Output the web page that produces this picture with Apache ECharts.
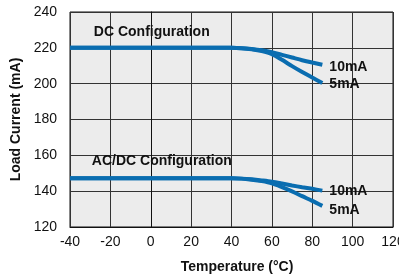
<!DOCTYPE html>
<html><head><meta charset="utf-8">
<script src="https://cdn.jsdelivr.net/npm/echarts@6/dist/echarts.min.js"></script>
<style>html,body{margin:0;padding:0;background:#fff}#c{width:399px;height:278px}</style>
</head><body><div id="c"></div>
<script>
// Temperature (°C) sample points
const temps = [-40, 0, 40, 45, 50, 55, 60, 65, 70, 75, 80, 85];
// Load current (mA)
const dc10mA = [220, 220, 220, 219.8, 219.3, 218.6, 217.6, 216.1, 214.6, 213.1, 211.8, 210.6];
const dc5mA = [220, 220, 220, 219.8, 219.2, 218.2, 216.5, 213.3, 209.8, 206.5, 203.4, 200.4];
const acdc10mA = [147.2, 147.2, 147.2, 147.0, 146.6, 146.0, 145.3, 144.3, 143.2, 142.2, 141.3, 140.3];
const acdc5mA = [147.2, 147.2, 147.2, 147.0, 146.4, 145.6, 144.4, 142.3, 139.9, 137.2, 134.6, 131.8];
const seriesNames = ['10mA', '5mA', '10mA', '5mA'];
const xTicks = [-40, -20, 0, 20, 40, 60, 80, 100, 120];
const yTicks = [120, 140, 160, 180, 200, 220, 240];
const annotations = ['DC Configuration', 'AC/DC Configuration'];
const annotationAt = [[-28.2, 228.8], [-29.2, 156.5]];

const font = "'Liberation Sans', Arial, Helvetica, sans-serif";
const pair = (xs, ys) => xs.map((x, i) => [x, ys[i]]);
const blue = '#0a6db0';

function lineSeries(name, data, labelOffset) {
  return {
    type: 'line', name, data, smooth: 0.3, symbol: 'none',
    lineStyle: { color: blue, width: 4 },
    endLabel: { show: true, formatter: name, color: '#111', fontFamily: font,
      fontWeight: 'bold', fontSize: 14, distance: 7, offset: labelOffset },
    z: 3
  };
}

const chart = echarts.init(document.getElementById('c'), null, { renderer: 'canvas' });
chart.setOption({
  animation: false,
  grid: { left: 70, right: 6, top: 12, bottom: 51, show: true, outerBoundsMode: 'none', containLabel: false,
    backgroundColor: '#ececec', borderColor: '#111', borderWidth: 1 },
  xAxis: {
    type: 'value', min: xTicks[0], max: xTicks[xTicks.length - 1], interval: 20,
    name: 'Temperature (°C)', nameLocation: 'middle', nameGap: 33,
    nameTextStyle: { fontFamily: font, fontWeight: 'bold', fontSize: 14, color: '#111', padding: [0, 0, 0, 11] },
    axisLine: { show: true, lineStyle: { color: '#111' } },
    axisTick: { show: false },
    axisLabel: { fontFamily: font, fontSize: 14, color: '#111', margin: 8, showMaxLabel: true, showMinLabel: true },
    splitLine: { show: true, lineStyle: { color: '#333', width: 1 } }
  },
  yAxis: {
    type: 'value', min: yTicks[0], max: yTicks[yTicks.length - 1], interval: 20,
    name: 'Load Current (mA)', nameLocation: 'middle', nameGap: 46,
    nameTextStyle: { fontFamily: font, fontWeight: 'bold', fontSize: 14, color: '#111' },
    axisLine: { show: true, lineStyle: { color: '#111' } },
    axisTick: { show: false },
    axisLabel: { fontFamily: font, fontSize: 14, color: '#111', margin: 13 },
    splitLine: { show: true, lineStyle: { color: '#333', width: 1 } }
  },
  series: [
    lineSeries(seriesNames[0], pair(temps, dc10mA), [0, 2]),
    lineSeries(seriesNames[1], pair(temps, dc5mA), [0, 1]),
    lineSeries(seriesNames[2], pair(temps, acdc10mA), [0, 1]),
    lineSeries(seriesNames[3], pair(temps, acdc5mA), [0, 4]),
    {
      type: 'scatter', symbolSize: 0, itemStyle: { color: '#111', opacity: 1 }, silent: true, z: 4,
      emphasis: { disabled: true },
      data: annotations.map((t, i) => ({ value: annotationAt[i], name: t })),
      label: { show: true, position: 'right', distance: 0, formatter: p => p.name,
        fontFamily: font, fontWeight: 'bold', fontSize: 14, color: '#111', opacity: 1 }
    }
  ]
});
</script></body></html>
